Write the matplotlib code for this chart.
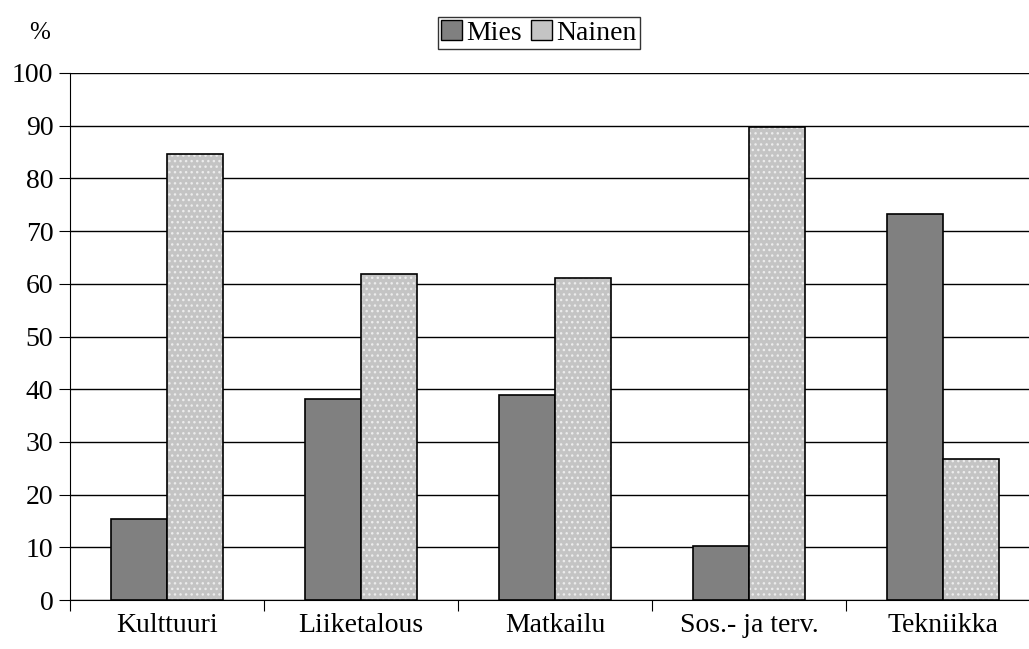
import matplotlib.pyplot as plt
import matplotlib.patches as mpatches
import numpy as np

plt.rcParams['font.family'] = ['Liberation Serif', 'DejaVu Serif']
plt.rcParams['hatch.linewidth'] = 1.0

categories = ['Kulttuuri', 'Liiketalous', 'Matkailu', 'Sos.- ja terv.', 'Tekniikka']
mies = [15.4, 38.2, 38.9, 10.3, 73.3]
nainen = [84.6, 61.8, 61.1, 89.7, 26.7]
yticks = [0, 10, 20, 30, 40, 50, 60, 70, 80, 90, 100]

fig = plt.figure(figsize=(10.29, 6.49), dpi=100)
ax = fig.add_axes([70 / 1029, 49 / 649, 970 / 1029, 527 / 649])

x = np.arange(len(categories))
w = 0.29

ax.bar(x - w / 2, mies, w, color='#808080', edgecolor='black', linewidth=1.2, zorder=3)
# dotted fill for Nainen: light dots on grey, then black outline on top
ax.bar(x + w / 2, nainen, w, color='#c4c4c4', edgecolor='#ececec', hatch='...',
       linewidth=0, zorder=3)
ax.bar(x + w / 2, nainen, w, fill=False, edgecolor='black', linewidth=1.2, zorder=4)

ax.set_xlim(-0.5, len(categories) - 0.5)
ax.set_ylim(0, 100)
ax.set_yticks(yticks)
ax.set_xticks(np.arange(len(categories) + 1) - 0.5)
ax.set_xticklabels([])
ax.set_xticks(x, minor=True)
ax.set_xticklabels(categories, minor=True, fontsize=20)
ax.tick_params(axis='x', which='minor', length=0, pad=9)
ax.tick_params(axis='x', which='major', length=8, direction='out', color='black')
ax.tick_params(axis='y', length=8, direction='out', labelsize=20, pad=4)

ax.grid(axis='y', color='black', linewidth=1, zorder=0)
ax.set_axisbelow(True)
for s in ['top', 'right']:
    ax.spines[s].set_visible(False)
ax.spines['left'].set_color('black')
ax.spines['bottom'].set_color('black')

fig.text(40 / 1029, 1 - 33 / 649, '%', fontsize=18, ha='center', va='center')

h1 = mpatches.Patch(facecolor='#808080', edgecolor='black', linewidth=1)
h2 = mpatches.Patch(facecolor='#c4c4c4', edgecolor='black', linewidth=1)
leg = fig.legend([h1, h2], ['Mies', 'Nainen'], loc='center', bbox_to_anchor=(539 / 1029, 1 - 33 / 649),
                 ncol=2, fontsize=20, frameon=True, fancybox=False, edgecolor='black',
                 handlelength=0.75, handleheight=0.75, handletextpad=0.15, columnspacing=0.35,
                 borderpad=0.1, borderaxespad=0)
leg.get_frame().set_linewidth(1)

fig.savefig('out.png', dpi=100)
